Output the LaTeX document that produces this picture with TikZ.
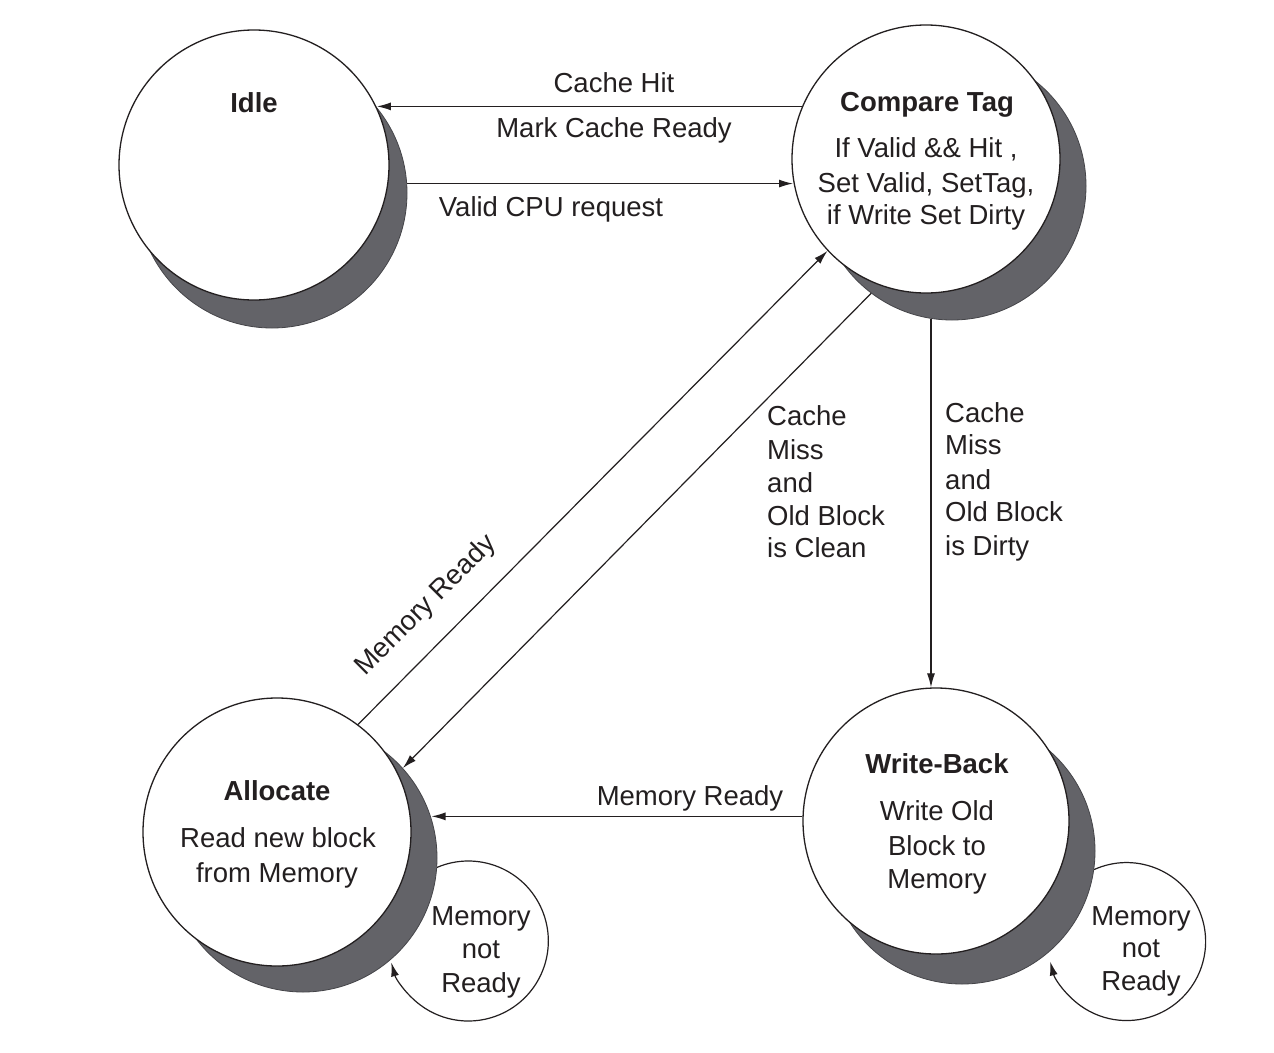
\documentclass[tikz,border=0pt]{standalone}
\usepackage{fontspec}
\setmainfont{Liberation Sans}
\usetikzlibrary{arrows.meta}
\definecolor{shade}{RGB}{99,99,104}
\definecolor{ink}{RGB}{35,31,32}
\begin{document}
\begin{tikzpicture}[x=1pt,y=1pt,
  state/.style={circle, draw=ink, line width=1.3pt, fill=white, minimum size=268pt, inner sep=0pt},
  shadowc/.style={circle, draw=shade!70!black, line width=0.8pt, fill=shade, minimum size=268pt, inner sep=0pt},
  txt/.style={font=\fontsize{27.5}{33}\selectfont, text=ink, inner sep=0pt, anchor=base},
  txtl/.style={txt, anchor=base west},
  ttl/.style={txt, font=\fontsize{27.5}{33}\selectfont\bfseries},
  edge/.style={draw=ink, line width=1.2pt, -{Latex[length=14pt,width=8pt]}},
]
\useasboundingbox[fill=white] (0,0) rectangle (1274,-1052);

% shadows
\node[shadowc, minimum size=270pt] (idleS) at (272,-193) {};
\node[shadowc] (cmpS) at (952,-186) {};
\node[shadowc] (allocS) at (303,-858) {};
\node[shadowc, minimum size=266pt] (wbS) at (962,-851) {};

% states
\node[state, minimum size=270pt] (idle) at (254,-165) {};
\node[state] (cmp) at (926,-159) {};
\node[state] (alloc) at (277,-832) {};
\node[state, minimum size=266pt] (wb) at (936,-821) {};

% connectors
\draw[edge] (cmp.157.2) -- (idle.25.4 |- cmp.157.2);
\draw[edge] (idleS.4.7) -- (cmp.189.9 |- idleS.4.7);
\draw[edge] (alloc.53.8) -- (cmp.223.2);
\draw[edge] (cmpS.233.7) -- (allocS.42.3);
\draw[edge] (cmpS.261.4) -- (cmpS.261.4 |- wb.north);
\draw[edge] (wb.178.3) -- (allocS.17.8 |- wb.178.3);
\draw[edge] (allocS.-4.3) arc[start angle=113, end angle=-164.5, radius=80];
\draw[edge] (wbS.-8.1) arc[start angle=114.3, end angle=-165.4, radius=79];

% state texts
\node[ttl] (tIdle) at (254,-112) {Idle};
\node[ttl] (tCmp) at (927,-111) {Compare Tag};
\node[txt] (tCmp1) at (926,-157) {If Valid \&\& Hit ,};
\node[txt] (tCmp2) at (926,-192) {Set Valid, SetTag,};
\node[txt] (tCmp3) at (926,-224) {if Write Set Dirty};
\node[ttl] (tAl) at (277,-800) {Allocate};
\node[txt] (tAl1) at (278,-847) {Read new block};
\node[txt] (tAl2) at (277,-882) {from Memory};
\node[ttl] (tWb) at (937,-773) {Write-Back};
\node[txt] (tWb1) at (937,-820) {Write Old};
\node[txt] (tWb2) at (937,-855) {Block to};
\node[txt] (tWb3) at (937,-888) {Memory};

% edge labels
\node[txt] (lHit) at (614,-92) {Cache Hit};
\node[txt] (lMark) at (614,-137) {Mark Cache Ready};
\node[txt] (lCpu) at (551,-216) {Valid CPU request};

\node[txtl] (lc1) at (767,-425) {Cache};
\node[txtl] (lc2) at (767,-459) {Miss};
\node[txtl] (lc3) at (767,-492) {and};
\node[txtl] (lc4) at (767,-525) {Old Block};
\node[txtl] (lc5) at (767,-557) {is Clean};

\node[txtl] (ld1) at (945,-422) {Cache};
\node[txtl] (ld2) at (945,-454) {Miss};
\node[txtl] (ld3) at (945,-489) {and};
\node[txtl] (ld4) at (945,-521) {Old Block};
\node[txtl] (ld5) at (945,-555) {is Dirty};

\node[txt, rotate=45] (lMr1) at (431,-611) {Memory Ready};
\node[txt] (lMr2) at (690,-805) {Memory Ready};

\node[txt] (la1) at (481,-925) {Memory};
\node[txt] (la2) at (481,-958) {not};
\node[txt] (la3) at (481,-992) {Ready};

\node[txt] (lw1) at (1141,-925) {Memory};
\node[txt] (lw2) at (1141,-957) {not};
\node[txt] (lw3) at (1141,-990) {Ready};
\end{tikzpicture}
\end{document}
